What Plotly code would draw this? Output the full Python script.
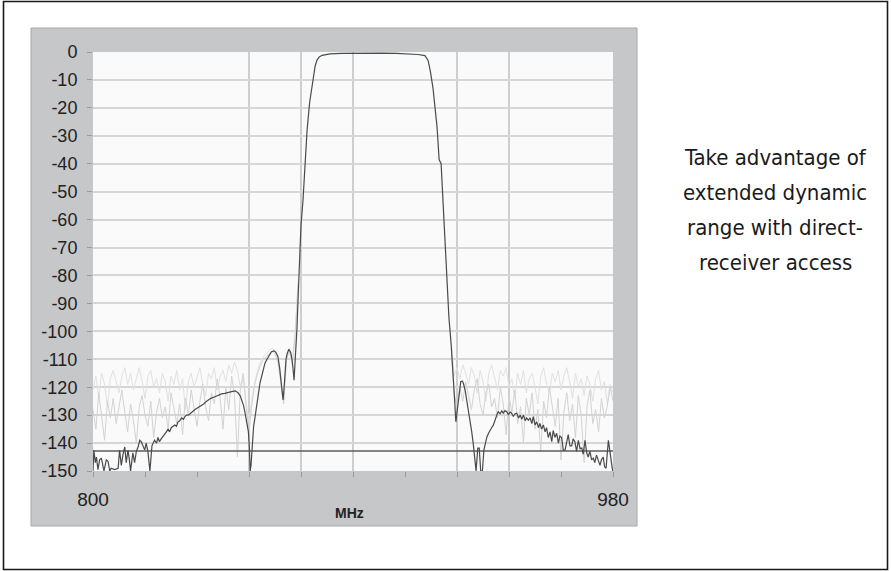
import plotly.graph_objects as go

# ---------------- data ----------------
dark_mhz = [800.0, 800.3, 800.8, 801.2, 801.7, 802.3, 802.9, 803.8, 804.6, 805.2, 805.8, 806.3, 807.5, 808.7,
            809.2, 809.8, 810.4, 811.0, 811.5, 812.1, 812.6, 813.0, 813.8, 814.4, 815.0, 815.6, 816.2, 816.7,
            817.3, 817.9, 818.4, 819.0, 819.7, 820.4, 821.3, 822.0, 822.5, 823.0, 823.6, 824.2, 824.8, 825.4,
            826.0, 826.5, 827.1, 827.7, 828.3, 828.9, 829.4, 830.0, 830.7, 831.3, 831.8, 832.4, 833.0, 833.6,
            834.1, 834.7, 835.3, 836.0, 836.8, 837.6, 838.3, 839.1, 839.9, 840.8, 842.2, 843.3, 844.5, 845.6,
            846.8, 848.0, 849.2, 850.2, 851.0, 851.5, 852.1, 852.6, 853.2, 853.8, 854.1, 854.4, 854.7, 855.1,
            855.6, 856.1, 856.6, 857.2, 857.8, 858.4, 859.0, 859.5, 860.2, 861.0, 861.8, 862.7, 863.3, 864.0,
            864.6, 865.2, 865.8, 866.3, 866.8, 867.2, 867.8, 868.4, 868.9, 869.3, 869.6, 870.0, 870.6, 871.3,
            872.0, 872.7, 873.4, 874.1, 875.0, 876.2, 876.9, 877.5, 878.3, 879.3, 882.0, 886.0, 890.0, 895.0,
            900.0, 905.0, 909.7, 912.5, 914.9, 916.0, 916.8, 917.7, 918.4, 919.1, 919.6, 919.8, 920.5, 921.1,
            921.8, 922.5, 923.2, 924.0, 924.7, 925.2, 925.6, 926.0, 926.4, 926.8, 927.3, 927.8, 928.2, 928.8,
            929.4, 930.0, 930.5, 931.1, 931.6, 932.1, 932.6, 933.2, 933.7, 934.2, 934.8, 935.3, 935.8, 936.3,
            936.9, 937.4, 938.0, 938.6, 939.0, 939.4, 939.9, 940.3, 940.9, 941.5, 942.0, 942.6, 943.2, 943.8,
            944.4, 944.9, 945.5, 946.1, 946.7, 947.3, 947.9, 948.4, 949.0, 949.6, 950.1, 950.7, 951.3, 951.9,
            952.4, 953.0, 953.6, 954.2, 954.7, 955.3, 955.9, 956.5, 957.0, 957.6, 958.2, 958.8, 959.3, 959.9,
            960.5, 961.1, 961.6, 962.2, 962.8, 963.4, 964.0, 964.5, 965.1, 965.7, 966.2, 966.8, 967.4, 968.0,
            968.6, 969.2, 969.7, 970.3, 970.9, 971.4, 972.0, 972.6, 973.2, 973.7, 974.3, 974.9, 975.5, 976.0,
            976.6, 977.1, 977.6, 978.0, 978.4, 978.8, 979.2, 979.6, 979.9]
dark_db = [-150, -142.5, -147, -145, -149.5, -146, -145.4, -150, -146, -146.5, -150, -149, -149.5, -149,
           -142.5, -148, -144, -141.4, -147, -142.5, -146, -150, -143.5, -147, -143, -141.4, -139, -139.5,
           -141, -142.5, -140, -143, -150, -141, -139, -140, -138, -139.5, -138.5, -137.5, -137, -136,
           -135, -136, -134.5, -134, -133.5, -134, -132.5, -132, -131, -131.5, -130.5, -130, -130, -129.5,
           -129, -128.5, -128, -127.5, -127, -126.4, -126, -125.2, -124.6, -124, -123.4, -122.8, -122.4, -122.2,
           -122, -121.6, -121.3, -122, -123.2, -124.6, -126.5, -129, -132, -136, -141, -150, -148, -140,
           -134, -130.6, -127, -122, -118.5, -116, -113.5, -111.5, -110, -108.5, -107.3, -107, -107.5, -109,
           -113, -119, -124.6, -118, -110, -108, -106.4, -107.5, -110, -114, -117.5, -110, -99, -80,
           -62, -53, -40, -28, -18, -10, -5, -3, -1.8, -1.2, -0.7, -0.5, -0.4, -0.3,
           -0.4, -0.5, -0.7, -0.9, -1.3, -3, -7, -13, -20, -27, -35, -38.5, -40, -53,
           -68, -82, -95, -105, -115, -125, -132.4, -129, -124.6, -120.5, -118, -117.8, -118.6, -121,
           -124.6, -128, -131.8, -136, -140, -144, -150, -141.8, -141.8, -150, -150, -142.5, -140, -138,
           -136.5, -135.3, -134.5, -133.5, -132, -130.6, -129.6, -128.8, -129.5, -128.5, -129.3, -128.4, -128.8, -129.8,
           -128.9, -129.3, -130.5, -129.5, -129.3, -131, -130, -131.5, -130, -132, -131, -131.8, -131, -133,
           -130.5, -133.5, -132.4, -134.5, -133, -135, -133.5, -136, -134.5, -138, -136, -139.5, -135.5, -138,
           -136.5, -140, -137.5, -138, -142.5, -142.5, -139, -137, -141, -141, -138.5, -139.5, -143, -139,
           -142, -141.8, -144, -139, -143.5, -145, -143, -146, -145.4, -147, -144.3, -146.5, -148, -146,
           -145, -148.5, -149, -144, -139, -142, -146, -148, -150]

light_left_mhz = [800, 801, 802, 803, 804, 805, 806, 807, 808, 809, 810, 811, 812, 813, 814, 815, 816, 817,
                  818, 819, 820, 821, 822, 823, 824, 825, 826, 827, 828, 829, 830, 831, 832, 833, 834, 835,
                  836, 837, 838, 839, 840, 841, 842, 843, 844, 845, 846, 847, 848, 849, 850, 851, 852, 853,
                  854, 855, 856, 857, 858, 859, 860, 861, 862, 863, 864, 865, 866, 867, 868, 869, 870, 871]
light_a_left_db = [-121, -116, -124, -115, -119, -127, -117, -114, -118, -122, -116, -113, -119, -115, -121, -117,
                   -113, -118, -124, -116, -114, -120, -117, -122, -115, -118, -125, -116, -119, -114, -121, -117,
                   -128, -118, -115, -120, -116, -113, -119, -123, -115, -117, -113, -121, -116, -114, -118, -112,
                   -115, -111, -114, -120, -117, -125, -133, -124, -118, -114, -111, -109, -108, -107, -106, -107,
                   -110, -116, -125, -109, -106, -111, -100, -82]
light_b_left_db = [-128, -135, -122, -130, -139, -125, -131, -124, -133, -127, -121, -129, -136, -126, -132, -140,
                   -127, -123, -130, -134, -125, -138, -129, -124, -131, -127, -135, -122, -128, -133, -126, -137,
                   -124, -130, -121, -128, -134, -125, -119, -127, -132, -122, -126, -117, -124, -135, -120, -128,
                   -116, -123, -145, -121, -115, -127, -136, -126, -119, -115, -112, -110, -109, -108, -107, -108,
                   -111, -118, -126, -110, -107, -112, -101, -83]

light_right_mhz = [924, 925, 926, 927, 928, 929, 930, 931, 932, 933, 934, 935, 936, 937, 938, 939, 940, 941,
                   942, 943, 944, 945, 946, 947, 948, 949, 950, 951, 952, 953, 954, 955, 956, 957, 958, 959,
                   960, 961, 962, 963, 964, 965, 966, 967, 968, 969, 970, 971, 972, 973, 974, 975, 976, 977,
                   978, 979, 980]
light_a_right_db = [-104, -116, -113, -117, -112, -115, -119, -113, -116, -122, -114, -118, -125, -115, -112, -117,
                    -121, -114, -116, -113, -120, -117, -124, -115, -119, -114, -122, -117, -115, -120, -126, -116,
                    -113, -119, -122, -115, -118, -114, -121, -116, -113, -118, -124, -115, -120, -117, -123, -116,
                    -119, -125, -117, -114, -121, -118, -126, -119, -122]
light_b_right_db = [-106, -122, -127, -120, -125, -118, -123, -128, -121, -117, -126, -130, -122, -119, -127, -124,
                    -131, -120, -126, -137, -123, -129, -121, -133, -127, -140, -124, -130, -122, -135, -128, -143,
                    -125, -131, -120, -127, -134, -124, -146, -129, -122, -132, -126, -138, -123, -130, -147, -127,
                    -121, -133, -128, -136, -124, -131, -127, -120, -125]

noise_floor_mhz = [800, 980]
noise_floor_db = [-142.8, -142.8]

y_ticks = [-150, -140, -130, -120, -110, -100, -90, -80, -70, -60, -50, -40, -30, -20, -10, 0]
y_tick_text = ["-150", "-140", "-130", "-120", "-110", "-100", "-90", "-80", "-70", "-60", "-50",
               "-40", "-30", "-20", "-10", "0"]
x_label_vals = [800, 980]
x_label_text = ["800", "980"]
vgrid_mhz = [854, 872, 890, 926, 944]

caption_lines = ["Take advantage of", "extended dynamic", "range with direct-", "receiver access"]

# ---------------- figure ----------------
fig = go.Figure()
light1 = "#e1e1e3"
light2 = "#d3d3d5"
fig.add_trace(go.Scatter(x=light_left_mhz, y=light_a_left_db, mode="lines", line=dict(color=light1, width=1)))
fig.add_trace(go.Scatter(x=light_right_mhz, y=light_a_right_db, mode="lines", line=dict(color=light1, width=1)))
fig.add_trace(go.Scatter(x=light_left_mhz, y=light_b_left_db, mode="lines", line=dict(color=light2, width=1)))
fig.add_trace(go.Scatter(x=light_right_mhz, y=light_b_right_db, mode="lines", line=dict(color=light2, width=1)))
fig.add_trace(go.Scatter(x=noise_floor_mhz, y=noise_floor_db, mode="lines", line=dict(color="#5c5c5c", width=1.5)))
fig.add_trace(go.Scatter(x=dark_mhz, y=dark_db, mode="lines", line=dict(color="#4a4a4a", width=1.2)))

L, R, T, B = 93, 613, 52, 471
W, H = 891, 571
pw, ph = R - L, B - T

def px(x):
    return (x - L) / pw

def py(y):
    return (B - y) / ph

shapes = [
    # grey chart panel
    dict(type="rect", xref="paper", yref="paper", x0=px(31), x1=px(637), y0=py(526), y1=py(28),
         fillcolor="#c6c7c9", line=dict(color="#a8a8aa", width=1), layer="below"),
    # plot area
    dict(type="rect", xref="paper", yref="paper", x0=0, x1=1, y0=0, y1=1,
         fillcolor="#fafafa", line=dict(width=0), layer="below"),
    # outer frame
    dict(type="rect", xref="paper", yref="paper", x0=px(3.5), x1=px(887.5), y0=py(569.5), y1=py(1.5),
         fillcolor="rgba(0,0,0,0)", line=dict(color="#1a1a1a", width=1.6), layer="above"),
]
for v in vgrid_mhz:
    shapes.append(dict(type="line", xref="x", yref="paper", x0=v, x1=v, y0=0, y1=1,
                       line=dict(color="#a2a2a2", width=1), layer="below"))

fig.update_layout(
    width=W, height=H,
    margin=dict(l=L, r=W - R, t=T, b=H - B, pad=0),
    paper_bgcolor="white", plot_bgcolor="rgba(0,0,0,0)",
    showlegend=False, hovermode=False,
    shapes=shapes,
    font=dict(family="Liberation Sans, Arial, sans-serif", color="#222222"),
)
fig.update_xaxes(
    range=[800, 980], showgrid=False, zeroline=False, showline=False,
    tickmode="array", tickvals=x_label_vals, ticktext=x_label_text,
    ticks="outside", ticklen=5, tickcolor="#9a9a9a", tickwidth=1,
    ticklabelstandoff=6, tickfont=dict(size=19, color="#222222"),
    minor=dict(tick0=800, dtick=18, ticks="outside", ticklen=5, tickcolor="#9a9a9a", showgrid=False),
)
fig.update_yaxes(
    range=[-150, 0], showgrid=True, gridcolor="#d6d6d6", gridwidth=1.5, zeroline=False, showline=False,
    tickmode="array", tickvals=y_ticks, ticktext=y_tick_text,
    ticks="outside", ticklen=5, tickcolor="#9a9a9a", tickwidth=1,
    ticklabelstandoff=6, tickfont=dict(size=18, color="#222222"),
)

fig.add_annotation(xref="paper", yref="paper", x=px(349), y=py(513), text="<b>MHz</b>",
                   showarrow=False, xanchor="center", yanchor="middle",
                   font=dict(size=14, color="#222222", family="Liberation Sans, Arial, sans-serif"))
caption_y = [157, 192, 227, 262]
for line, yy in zip(caption_lines, caption_y):
    fig.add_annotation(xref="paper", yref="paper", x=px(775), y=py(yy), text=line,
                       showarrow=False, xanchor="center", yanchor="middle", align="center",
                       font=dict(size=22, color="#1a1a1a",
                                 family="DejaVu Sans Condensed, Liberation Sans Narrow, sans-serif"))

fig.write_html("out.html", config={"displayModeBar": False},
               post_script="document.body.style.margin='0';")
